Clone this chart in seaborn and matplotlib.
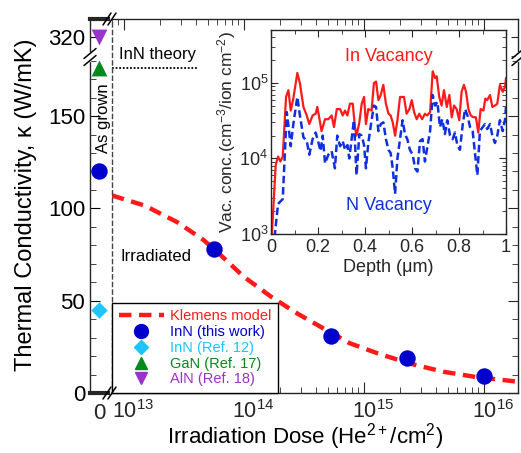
import numpy as np
import matplotlib.pyplot as plt
import seaborn as sns
from matplotlib.lines import Line2D
from matplotlib.transforms import ScaledTranslation
from matplotlib.ticker import MultipleLocator, FixedLocator, NullFormatter

# ---- main panel data ----
dose_irr = [5.6e13, 5.3e14, 2.3e15, 1e16]
kappa_irr = [78, 31, 19, 9.2]
kappa_asgrown = 120
kappa_ref12 = 45
kappa_gan = 176
kappa_aln = 320
kappa_theory = 176

klemens_dose = [8e12, 1.5e13, 2.8e13, 4.6e13, 6e13, 1e14, 1.7e14, 2.8e14, 4.6e14,
                7.6e14, 1.3e15, 2.4e15, 4.6e15, 8.7e15, 2e16]
klemens_kappa = [107, 101.5, 92.5, 83, 76.5, 63, 52, 43, 35, 27, 21.5, 16, 11.5, 8.6, 6]

# ---- inset data: vacancy concentration vs depth ----
in_depth = [0.003, 0.02, 0.03, 0.04, 0.05, 0.064, 0.074, 0.084, 0.095, 0.112, 0.123, 0.138,
            0.152, 0.163, 0.177, 0.19, 0.197, 0.205, 0.215, 0.23, 0.244, 0.258, 0.268, 0.28,
            0.294, 0.305, 0.315, 0.325, 0.336, 0.348, 0.357, 0.364, 0.376, 0.386, 0.396, 0.404,
            0.414, 0.428, 0.438, 0.447, 0.457, 0.467, 0.478, 0.489, 0.5, 0.509, 0.518, 0.528,
            0.538, 0.549, 0.566, 0.577, 0.589, 0.599, 0.609, 0.62, 0.631, 0.643, 0.655, 0.665,
            0.677, 0.688, 0.698, 0.705, 0.716, 0.726, 0.736, 0.748, 0.759, 0.769, 0.779, 0.79,
            0.801, 0.811, 0.821, 0.83, 0.84, 0.85, 0.861, 0.872, 0.882, 0.892, 0.904, 0.912,
            0.92, 0.932, 0.942, 0.953, 0.963, 0.974, 0.986, 0.996, 1.0]
in_vac = [9e2, 8.2e3, 1.06e4, 9.1e3, 1.06e4, 6.5e4, 8.0e4, 4.3e4, 6.2e4, 1.35e5, 9.9e4, 4.8e4,
          3.7e4, 2.85e4, 3.7e4, 3.9e4, 4.8e4, 3.5e4, 2.3e4, 3.3e4, 3.3e4, 3.7e4, 2.6e4, 4.5e4,
          4.5e4, 3.7e4, 4.3e4, 3.7e4, 5.3e4, 5.3e4, 2.6e4, 2.0e4, 3.0e4, 5.3e4, 6.5e4, 2.85e4,
          4.5e4, 4.3e4, 9.9e4, 1.04e5, 5.9e4, 6.9e4, 9.4e4, 5.3e4, 3.9e4, 3.7e4, 3.0e4, 2.0e4,
          3.2e4, 6.5e4, 6.5e4, 3.9e4, 4.5e4, 5.9e4, 4.1e4, 3.3e4, 3.9e4, 3.3e4, 3.9e4, 3.7e4,
          4.1e4, 1.42e5, 1.16e5, 1.22e5, 6.5e4, 5.0e4, 8.0e4, 4.8e4, 6.9e4, 3.5e4, 5.0e4, 4.5e4,
          3.2e4, 7.6e4, 9.4e4, 7.6e4, 4.5e4, 3.7e4, 3.5e4, 3.5e4, 2.2e4, 4.5e4, 4.3e4, 6.2e4,
          5.9e4, 6.9e4, 4.8e4, 5.0e4, 5.3e4, 9.4e4, 7.6e4, 8.9e4, 1.16e5]

n_depth = [0.015, 0.03, 0.05, 0.067, 0.075, 0.084, 0.095, 0.112, 0.123, 0.138, 0.152, 0.163,
           0.177, 0.19, 0.2, 0.211, 0.22, 0.23, 0.244, 0.258, 0.272, 0.282, 0.294, 0.305,
           0.315, 0.325, 0.333, 0.343, 0.353, 0.364, 0.376, 0.386, 0.396, 0.404, 0.414, 0.428,
           0.438, 0.447, 0.457, 0.467, 0.478, 0.489, 0.5, 0.509, 0.518, 0.528, 0.538, 0.549,
           0.56, 0.57, 0.58, 0.591, 0.603, 0.613, 0.623, 0.634, 0.645, 0.655, 0.665, 0.677,
           0.688, 0.698, 0.708, 0.719, 0.729, 0.74, 0.75, 0.762, 0.773, 0.783, 0.793, 0.804,
           0.816, 0.826, 0.836, 0.847, 0.858, 0.868, 0.878, 0.889, 0.901, 0.911, 0.92, 0.932,
           0.942, 0.953, 0.963, 0.974, 0.986, 0.996, 1.0]
n_vac = [9e2, 2.5e3, 2.9e3, 4.1e4, 2.6e4, 1.45e4, 2.85e4, 6.5e4, 3.7e4, 1.9e4, 1.7e4, 1.12e4,
         1.8e4, 2.2e4, 1.7e4, 1.25e4, 2.0e4, 8.6e3, 1.12e4, 1.25e4, 7.4e3, 2.0e4, 1.45e4, 1.7e4,
         1.3e4, 1.5e4, 1.0e4, 1.8e4, 3.2e4, 6.0e3, 2.1e4, 2.0e4, 1.5e4, 7.4e3, 1.6e4, 3.2e4,
         5.0e4, 4.8e4, 2.3e4, 2.85e4, 3.0e4, 1.8e4, 1.3e4, 1.18e4, 7.4e3, 3.4e3, 1.0e4, 1.8e4,
         3.2e4, 2.1e4, 1.8e4, 1.3e4, 1.12e4, 7.4e3, 6.7e3, 1.7e4, 1.8e4, 9.1e3, 1.4e4, 2.3e4,
         6.9e4, 5.0e4, 5.6e4, 2.6e4, 3.3e4, 2.1e4, 3.2e4, 2.0e4, 1.8e4, 2.2e4, 1.5e4, 1.3e4,
         2.85e4, 4.5e4, 3.7e4, 2.6e4, 2.3e4, 1.18e4, 6.0e3, 2.3e4, 2.6e4, 2.85e4, 2.45e4, 2.85e4,
         2.0e4, 1.6e4, 2.0e4, 3.2e4, 2.3e4, 3.3e4, 4.8e4]

depth_ticks = [0, 0.2, 0.4, 0.6, 0.8, 1.0]
depth_ticklabels = ['0', '0.2', '0.4', '0.6', '0.8', '1']
legend_labels = ['Klemens model', 'InN (this work)', 'InN (Ref. 12)', 'GaN (Ref. 17)', 'AlN (Ref. 18)']

c_blue = '#0000cc'
c_cyan = '#1ec3ff'
c_green = '#008a1c'
c_purple = '#9933cc'
c_red = '#ff1a1a'
c_nblue = '#1030e0'

sns.set_style('ticks')
plt.rcParams['font.family'] = ['Liberation Sans', 'DejaVu Sans']
plt.rcParams['mathtext.fontset'] = 'custom'
plt.rcParams['mathtext.rm'] = 'Liberation Sans'
plt.rcParams['mathtext.it'] = 'Liberation Sans:italic'
plt.rcParams['mathtext.bf'] = 'Liberation Sans:bold'
plt.rcParams['axes.linewidth'] = 1.0
plt.rcParams['text.color'] = 'black'

W, H = 521, 453
fig = plt.figure(figsize=(W / 100, H / 100), dpi=100)


def box(x0, y0, x1, y1):
    return [x0 / W, 1 - y1 / H, (x1 - x0) / W, (y1 - y0) / H]


ax_l = fig.add_axes(box(90, 57, 108, 393))
ax_m = fig.add_axes(box(112, 57, 518, 393))
ax_lu = fig.add_axes(box(90, 19, 108, 57))
ax_mu = fig.add_axes(box(112, 19, 518, 57))

y_lo = (0, 182)
y_hi = (309.2, 329.75)
x_lim = (8e12, 1.92e16)

for a in (ax_l, ax_lu):
    a.set_xlim(-1, 1)
for a in (ax_m, ax_mu):
    a.set_xscale('log')
    a.set_xlim(*x_lim)
ax_l.set_ylim(*y_lo)
ax_m.set_ylim(*y_lo)
ax_lu.set_ylim(*y_hi)
ax_mu.set_ylim(*y_hi)

# spines
ax_l.spines['right'].set_visible(False)
ax_l.spines['top'].set_visible(False)
ax_l.spines['bottom'].set_linewidth(3)
ax_lu.spines['right'].set_visible(False)
ax_lu.spines['bottom'].set_visible(False)
ax_lu.spines['top'].set_linewidth(3)
for a in (ax_m, ax_mu):
    a.spines['left'].set_linestyle((0, (3, 2.5)))
    a.spines['left'].set_color('#444444')
ax_m.spines['top'].set_visible(False)
ax_mu.spines['bottom'].set_visible(False)

# ticks
tick_kw = dict(direction='in', labelsize=16, colors='black')
ax_l.set_yticks([0, 50, 100, 150])
ax_l.yaxis.set_minor_locator(MultipleLocator(10))
ax_l.set_xticks([0])
ax_l.set_xticklabels(['0'])
ax_l.tick_params(axis='y', which='major', length=7, **tick_kw)
ax_l.tick_params(axis='y', which='minor', length=4, direction='in')
ax_l.tick_params(axis='x', length=0, pad=7, labelsize=16)

ax_lu.set_yticks([320])
ax_lu.set_xticks([])
ax_lu.tick_params(axis='y', length=7, **tick_kw)

ax_m.yaxis.tick_right()
ax_m.set_yticks([0, 50, 100, 150])
ax_m.yaxis.set_minor_locator(MultipleLocator(10))
ax_m.tick_params(axis='y', which='both', labelright=False, direction='in')
ax_m.tick_params(axis='y', which='major', length=7)
ax_m.tick_params(axis='y', which='minor', length=4)
ax_m.tick_params(axis='x', which='major', length=8, pad=5, direction='in', labelsize=15.5)
ax_m.tick_params(axis='x', which='minor', length=4, direction='in')
ax_m.set_xticks([1e13, 1e14, 1e15, 1e16])
# centre the "10" (not the whole label) on each tick
for lab in ax_m.get_xticklabels():
    lab.set_transform(lab.get_transform() + ScaledTranslation(0.09, 0, fig.dpi_scale_trans))

ax_mu.yaxis.tick_right()
ax_mu.set_yticks([320])
ax_mu.yaxis.set_minor_locator(FixedLocator([310]))
ax_mu.tick_params(axis='y', which='both', labelright=False, direction='in', length=5)
ax_mu.xaxis.tick_top()
ax_mu.tick_params(axis='x', which='both', labeltop=False, direction='in')
ax_mu.tick_params(axis='x', which='major', length=8)
ax_mu.tick_params(axis='x', which='minor', length=4)
ax_mu.xaxis.set_minor_formatter(NullFormatter())

# ---- data ----
sns.lineplot(x=klemens_dose, y=klemens_kappa, ax=ax_m, color=c_red, lw=3.2,
             linestyle=(0, (2.8, 1.7)), sort=False, legend=False, zorder=2)
sns.scatterplot(x=dose_irr, y=kappa_irr, ax=ax_m, color=c_blue, s=140, marker='o',
                linewidth=0, zorder=3, legend=False)
ax_m.plot([x_lim[0], 4.1e13], [kappa_theory, kappa_theory], color='black', lw=1.3,
          linestyle=(0, (1, 1)), clip_on=False)

sns.scatterplot(x=[0], y=[kappa_asgrown], ax=ax_l, color=c_blue, s=140, marker='o',
                linewidth=0, clip_on=False, legend=False)
sns.scatterplot(x=[0], y=[kappa_ref12], ax=ax_l, color=c_cyan, s=70, marker='D',
                linewidth=0, clip_on=False, legend=False)
sns.scatterplot(x=[0], y=[kappa_gan], ax=ax_l, color=c_green, s=130, marker='^',
                linewidth=0, clip_on=False, legend=False)
sns.scatterplot(x=[0], y=[kappa_aln], ax=ax_lu, color=c_purple, s=130, marker='v',
                linewidth=0, clip_on=False, legend=False)

# ---- texts ----
ax_l.text(0.45, 149, 'As grown', rotation=90, ha='center', va='center', fontsize=12)
ax_m.text(9.5e12, 74, 'Irradiated', ha='left', va='center', fontsize=12)
fig.text(119 / W, 1 - 55 / H, 'InN theory', ha='left', va='center', fontsize=12)
fig.text(26 / W, 1 - 205 / H, 'Thermal Conductivity, κ (W/mK)', rotation=90,
         ha='center', va='center', fontsize=17)
fig.text(305 / W, 1 - 452 / H, 'Irradiation Dose (He$^{2+}$/cm$^2$)',
         ha='center', va='bottom', fontsize=16)

# ---- legend ----
handles = [
    Line2D([], [], color=c_red, lw=3.2, linestyle=(0, (2.8, 1.7))),
    Line2D([], [], color=c_blue, marker='o', ms=10, linestyle='none'),
    Line2D([], [], color=c_cyan, marker='D', ms=7, linestyle='none'),
    Line2D([], [], color=c_green, marker='^', ms=9, linestyle='none'),
    Line2D([], [], color=c_purple, marker='v', ms=9, linestyle='none'),
]
leg = ax_m.legend(handles, legend_labels, loc='lower left', bbox_to_anchor=(0, 0),
                  borderaxespad=0, fontsize=10.5, handlelength=3.1, handletextpad=0.4,
                  labelspacing=0.12, borderpad=0.45, fancybox=False, framealpha=1,
                  edgecolor='black')
leg.get_frame().set_linewidth(1.0)
for t, c in zip(leg.get_texts(), [c_red, c_blue, c_cyan, c_green, c_purple]):
    t.set_color(c)
leg.set_zorder(5)


# ---- axis break marks ----
def seg(xs, ys, **kw):
    fig.add_artist(Line2D([x / W for x in xs], [1 - y / H for y in ys],
                          transform=fig.transFigure, **kw))


# left and right spine breaks
for xc in (90, 518):
    seg([xc, xc], [54, 60], color='white', lw=3)
    for yc in (53.5, 60.5):
        seg([xc - 6, xc + 6], [yc + 5, yc - 5], color='black', lw=1.1)
# bottom and top spine breaks
for yc in (393, 19):
    for xc in (107, 112):
        seg([xc - 4, xc + 4], [yc + 6, yc - 6], color='black', lw=1.1)

# ---- inset ----
ax_in = fig.add_axes(box(271, 30, 506, 234))
sns.lineplot(x=in_depth, y=in_vac, ax=ax_in, color=c_red, lw=1.6, sort=False, legend=False)
sns.lineplot(x=n_depth, y=n_vac, ax=ax_in, color=c_nblue, lw=1.8,
             linestyle=(0, (3, 1.5)), sort=False, legend=False)
ax_in.set_yscale('log')
ax_in.set_xlim(0, 1)
ax_in.set_ylim(1e3, 5e5)
ax_in.set_xticks(depth_ticks, labels=depth_ticklabels)
ax_in.xaxis.set_minor_locator(MultipleLocator(0.1))
ax_in.tick_params(which='both', direction='in', top=True, right=True, labelsize=13)
ax_in.tick_params(which='major', length=5)
ax_in.tick_params(which='minor', length=3)
ax_in.tick_params(axis='y', pad=2)
ax_in.set_xlabel('Depth (μm)', fontsize=13, labelpad=2)
ax_in.set_ylabel('Vac. conc.(cm$^{-3}$/ion cm$^{-2}$)', fontsize=12.5, labelpad=1)
ax_in.text(0.5, 2.2e5, 'In Vacancy', color=c_red, ha='center', va='center', fontsize=13)
ax_in.text(0.5, 2.4e3, 'N Vacancy', color=c_nblue, ha='center', va='center', fontsize=13)

fig.savefig('out.png', dpi=100)
